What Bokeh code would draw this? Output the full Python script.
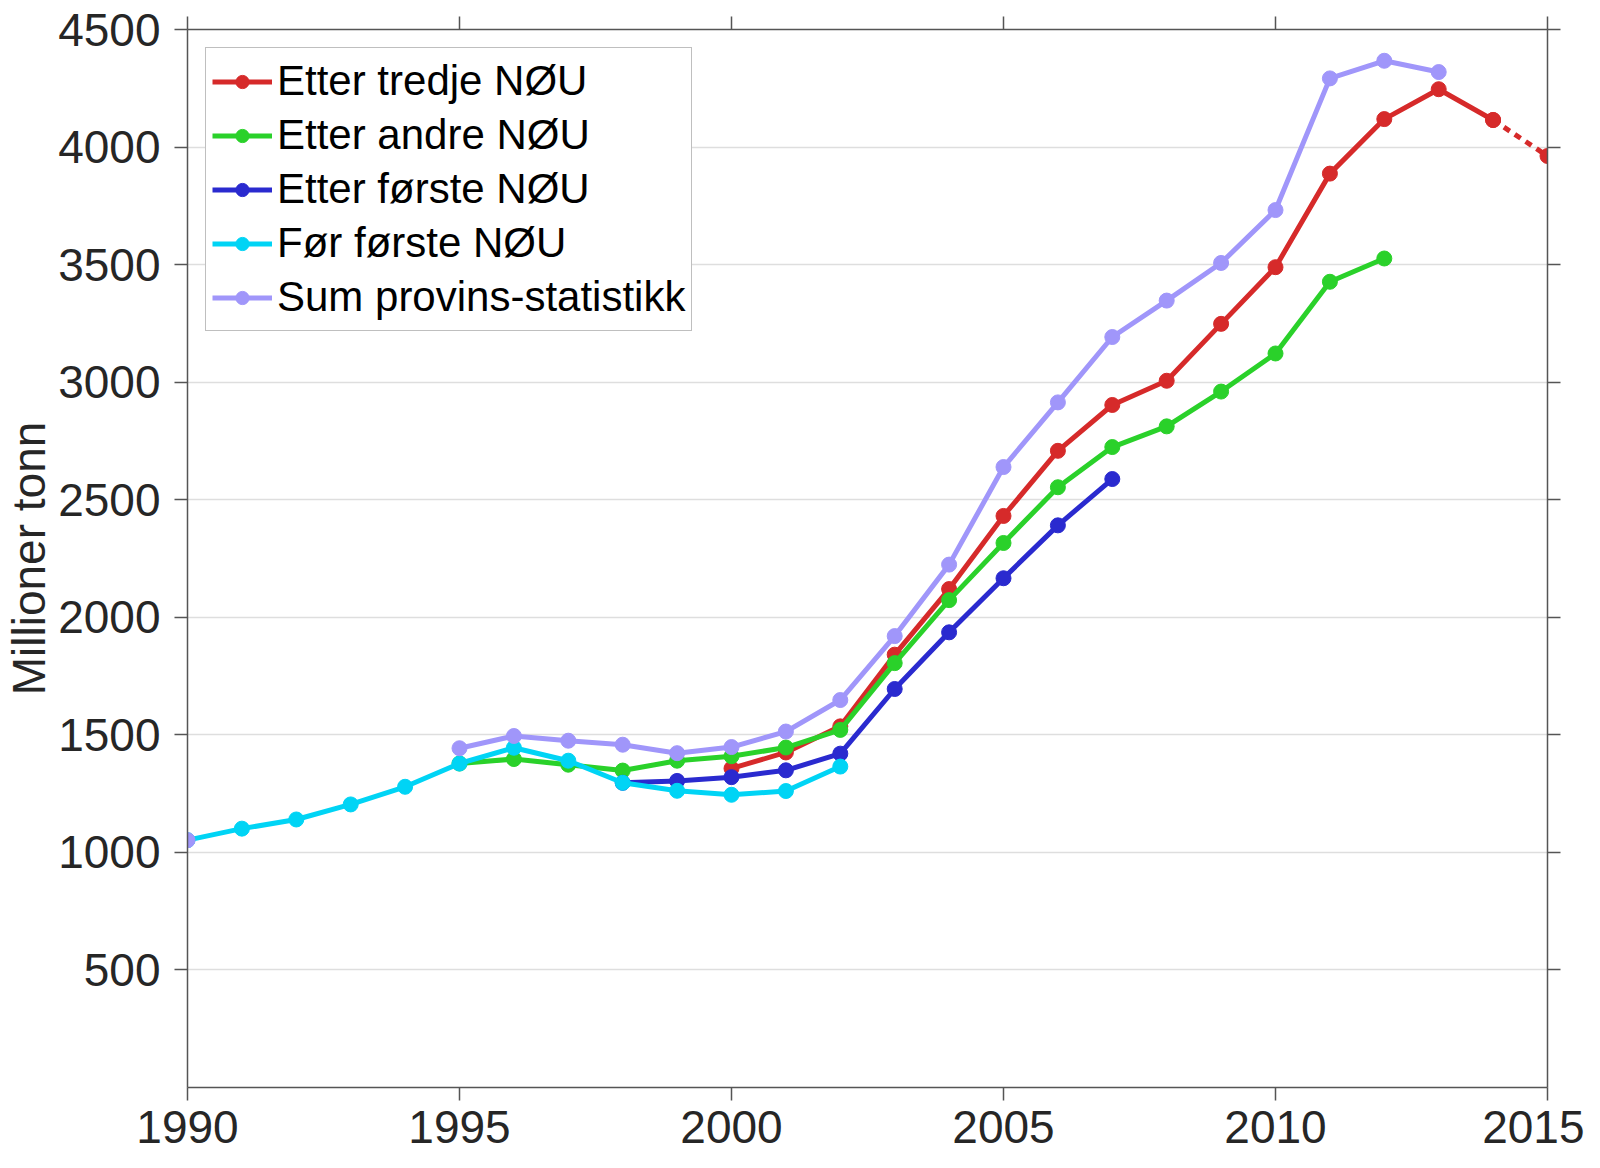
from bokeh.plotting import figure
from bokeh.models import (FixedTicker, LinearAxis, Legend, LegendItem, Range1d)
from bokeh.embed import file_html
from bokeh.resources import INLINE

# ---------------- data ----------------
years_cyan = [1990, 1991, 1992, 1993, 1994, 1995, 1996, 1997, 1998, 1999, 2000, 2001, 2002]
vals_cyan = [1052, 1101, 1140, 1204, 1279, 1378, 1445, 1390, 1296, 1262, 1245, 1261, 1365]

years_green = list(range(1995, 2013))
vals_green = [1378, 1397, 1373, 1348, 1390, 1409, 1446, 1521, 1805, 2073,
              2316, 2553, 2724, 2812, 2960, 3122, 3427, 3526]

years_blue = list(range(1998, 2008))
vals_blue = [1296, 1304, 1320, 1349, 1420, 1695, 1936, 2166, 2391, 2588]

years_red = list(range(2000, 2015))
vals_red = [1357, 1425, 1536, 1841, 2120, 2431, 2708, 2903, 3006, 3248,
            3489, 3887, 4119, 4246, 4115]
years_red_proj = [2014, 2015]
vals_red_proj = [4115, 3962]

# first point (1990) is an isolated value; the line runs from 1995
years_purple = [1990] + list(range(1995, 2014))
vals_purple = [1052,
               1443, 1495, 1475, 1458, 1422, 1448, 1514, 1648, 1920, 2224,
               2639, 2914, 3192, 3347, 3507, 3732, 4292, 4367, 4319]

labels = ["Etter tredje NØU", "Etter andre NØU", "Etter første NØU",
          "Før første NØU", "Sum provins-statistikk"]
colors = ["#d62a2a", "#2ad12a", "#2a2acf", "#00d4f5", "#a096fa"]

x_ticks = [1990, 1995, 2000, 2005, 2010, 2015]
y_ticks = [500, 1000, 1500, 2000, 2500, 3000, 3500, 4000, 4500]
y_label = "Millioner tonn"

FONT = "Liberation Sans"
TXT = "#262626"
AX = "#555555"

p = figure(width=1584, height=1152, output_backend="svg", toolbar_location=None,
           x_range=Range1d(1990, 2015), y_range=Range1d(0, 4500),
           min_border_left=0, min_border_right=37, min_border_top=29, min_border_bottom=65)
p.outline_line_color = None
p.background_fill_color = "white"
p.border_fill_color = "white"

def style_axis(ax, show_labels=True, standoff=10):
    ax.axis_line_color = AX
    ax.axis_line_width = 1.5
    ax.major_tick_line_color = AX
    ax.major_tick_line_width = 1.5
    ax.major_tick_out = 13
    ax.major_tick_in = 0
    ax.minor_tick_line_color = None
    ax.major_label_text_font = FONT
    ax.major_label_text_font_size = "46px"
    if show_labels:
        ax.major_label_text_color = TXT
        ax.major_label_standoff = standoff
    else:
        ax.major_label_text_color = None
        ax.major_label_standoff = 0

p.xaxis.ticker = FixedTicker(ticks=x_ticks)
p.yaxis.ticker = FixedTicker(ticks=y_ticks)
style_axis(p.xaxis[0], True, 10)
style_axis(p.yaxis[0], True, 14)
p.yaxis.axis_label = y_label
p.yaxis.axis_label_text_font = FONT
p.yaxis.axis_label_text_font_size = "46px"
p.yaxis.axis_label_text_font_style = "normal"
p.yaxis.axis_label_text_color = TXT
p.yaxis.axis_label_standoff = 0

top_ax = LinearAxis(ticker=FixedTicker(ticks=x_ticks))
style_axis(top_ax, False)
p.add_layout(top_ax, "above")
right_ax = LinearAxis(ticker=FixedTicker(ticks=y_ticks))
style_axis(right_ax, False)
p.add_layout(right_ax, "right")

p.xgrid.grid_line_color = None
p.ygrid.ticker = FixedTicker(ticks=y_ticks)
p.ygrid.grid_line_color = "#dedede"
p.ygrid.grid_line_width = 1.5

LW = 5
MS = 15

series = [
    (years_red, vals_red, colors[0], 0),
    (years_green, vals_green, colors[1], 0),
    (years_blue, vals_blue, colors[2], 0),
    (years_cyan, vals_cyan, colors[3], 0),
    (years_purple, vals_purple, colors[4], 1),
]

items = []
for i, (xs, ys, c, start) in enumerate(series):
    ln = p.line(xs[start:], ys[start:], line_color=c, line_width=LW)
    sc = p.scatter(xs, ys, marker="circle", size=MS, fill_color=c, line_color=c)
    if i == 0:
        p.line(years_red_proj, vals_red_proj, line_color=c, line_width=LW, line_dash="7 6")
        p.scatter(years_red_proj, vals_red_proj, marker="circle", size=MS,
                  fill_color=c, line_color=c)
    items.append(LegendItem(label=labels[i], renderers=[ln, sc]))

legend = Legend(items=items, location="top_left")
legend.margin = 18
legend.padding = 6
legend.spacing = 0
legend.glyph_width = 60
legend.glyph_height = 33
legend.label_height = 54
legend.label_standoff = 5
legend.label_text_font = FONT
legend.label_text_font_size = "42px"
legend.label_text_color = "black"
legend.border_line_color = "#808080"
legend.border_line_width = 1.5
legend.background_fill_color = "white"
legend.background_fill_alpha = 1.0
p.add_layout(legend)

open("out.html", "w").write(file_html(p, INLINE))
